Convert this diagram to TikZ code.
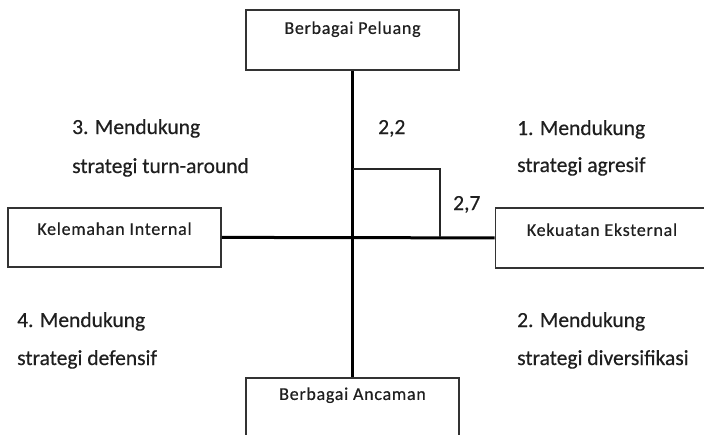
\documentclass[tikz,border=0pt]{standalone}
\usepackage{fontspec}
\setmainfont{Carlito}[FakeBold=0.5]
\newfontfamily\boxfont{Carlito}[LetterSpace=4,FakeBold=0.5]
\begin{document}
\begin{tikzpicture}[x=1pt,y=-1pt,
  lbl/.style={anchor=base west, inner sep=0pt, font=\fontsize{21.5}{25}\selectfont, text=black!88},
  boxnode/.style={draw=black!80, line width=1.8pt, inner sep=0pt, minimum width=213pt, anchor=north,
    font=\boxfont\fontsize{18}{20}\selectfont, text=black!88},
  axisline/.style={line width=3pt, draw=black},
  smallrect/.style={line width=1.5pt, draw=black!85},
]
\useasboundingbox (0,0) rectangle (704,434);
\clip (0,0) rectangle (704,434);

\node[boxnode, text height=24pt, text depth=36pt] (top) at (352.5,9) {Berbagai Peluang};
\node[boxnode, text height=27pt, text depth=32pt] (left) at (114.5,207) {Kelemahan Internal};
\node[boxnode, text height=28pt, text depth=32pt] (right) at (602,207) {Kekuatan Eksternal};
\node[boxnode, text height=22pt, text depth=41pt] (bottom) at (352.5,377) {Berbagai Ancaman};

\draw[axisline] (top.south) -- (bottom.north);
\draw[axisline] (left.east) -- (right.west);

\coordinate (p) at (352.5,169);
\coordinate (q) at (440,237);
\draw[smallrect] (p) -| (q);

\node[lbl] (q3a) at (72,134) {3. Mendukung};
\node[lbl] (q3b) at (72,173) {strategi turn-around};
\node[lbl] (q1a) at (517,135) {1. Mendukung};
\node[lbl] (q1b) at (517,172) {strategi agresif};
\node[lbl] (q4a) at (17,327) {4. Mendukung};
\node[lbl] (q4b) at (17,365) {strategi defensif};
\node[lbl] (q2a) at (517,327) {2. Mendukung};
\node[lbl] (q2b) at (517,365) {strategi diversifikasi};
\node[lbl] (v22) at (378,134) {2,2};
\node[lbl] (v27) at (453,210) {2,7};
\end{tikzpicture}
\end{document}
